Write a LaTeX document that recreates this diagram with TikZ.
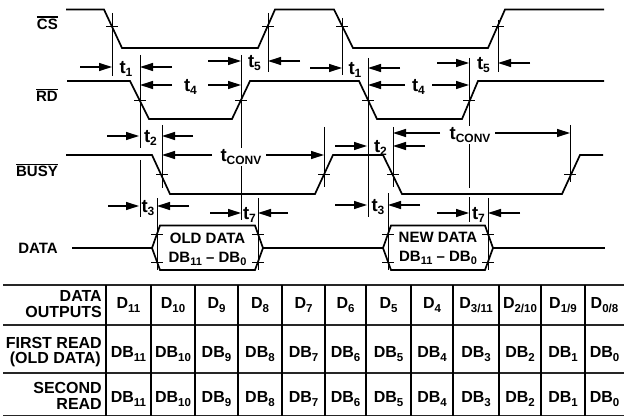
\documentclass[tikz,border=0pt]{standalone}
\usepackage{fontspec}
\setmainfont{Liberation Sans}
\usetikzlibrary{arrows.meta}
\newcommand\ovl[1]{\setbox0\hbox{#1}\rlap{\rule[\dimexpr\ht0+1.2pt\relax]{\wd0}{1.3pt}}\box0}
\newcommand\tsb[1]{\raisebox{-3pt}{\fontsize{12}{12}\selectfont #1}}
\newcommand\bsb[1]{\raisebox{-3pt}{\fontsize{11}{11}\selectfont #1}}
\newcommand\dsb[1]{\raisebox{-4pt}{\fontsize{11.5}{11.5}\selectfont #1}}
\tikzset{
  wave/.style={line width=1.7pt, line join=miter},
  tline/.style={line width=0.9pt},
  tickmark/.style={line width=0.9pt},
  arr/.style={line width=1.2pt, -{Triangle[length=13pt,width=8pt]}},
  tl/.style={font=\fontsize{18.5}{18.5}\selectfont\bfseries, anchor=base, inner sep=0pt},
  sig/.style={font=\fontsize{15}{15}\selectfont\bfseries, anchor=base east, inner sep=0pt},
  boxt/.style={font=\fontsize{15}{15}\selectfont\bfseries, anchor=base, inner sep=0pt},
  cell/.style={font=\fontsize{16}{16}\selectfont\bfseries, anchor=base, inner sep=0pt},
  rowh/.style={cell, anchor=base east},
  grid/.style={line width=1.6pt, black!85},
  vgrid/.style={line width=1.1pt}
}
\begin{document}
\begin{tikzpicture}[x=1pt,y=-1pt]
\useasboundingbox (0,0) rectangle (624,417);
% signal labels
\node[sig] (lcs) at (58,29.3) {\ovl{CS}};
\node[sig] (lrd) at (58,102) {\ovl{RD}};
\node[sig] (lbusy) at (58,177) {\ovl{BUSY}};
\node[sig] (ldata) at (58,253) {DATA};
% waveforms
\draw[wave] (66,9.5) -- (104,9.5) -- (122,48) -- (258,48) -- (275,9.5) -- (334,9.5) -- (353,48) -- (488,48) -- (505,9.5) -- (604,9.5);
\draw[wave] (67,81) -- (130,81) -- (149,119) -- (232,119) -- (250,81) -- (359,81) -- (377,119) -- (462,119) -- (478,81) -- (604,81);
\draw[wave] (66,155) -- (152,155) -- (170,194) -- (315,194) -- (333,155) -- (383,155) -- (402,194) -- (562,194) -- (580,155) -- (603,155);
\draw[wave] (72,248) -- (152,248) -- (160,225.5) -- (255,225.5) -- (263,248) -- (255,270) -- (160,270) -- (152,248);
\draw[wave] (263,248) -- (383,248) -- (391,225.5) -- (485,225.5) -- (493,248) -- (485,270) -- (391,270) -- (383,248);
\draw[wave] (493,248) -- (605,248);
% timing verticals
\foreach \x/\a/\b in {112/13/76, 268/13/72, 342/18/75, 498/20/72,
    140/55/148, 140/160/217, 241/55/220, 368/58/217, 469/58/188, 469/197/222,
    162/125/188, 324/127/187, 393/127/187, 570/125/182,
    157/198/270, 258/198/270, 388/193/270, 488/198/270}
  \draw[tline] (\x,\a) -- (\x,\b);
% crossing ticks
\foreach \x/\y in {112/26, 268/26, 342/26, 498/26,
    140/100, 241/100, 368/100, 469/100,
    162/174, 324/174, 393/174, 570/174,
    157/234, 157/262, 258/234, 258/262, 388/234, 388/262, 488/234, 488/262}
  \draw[tickmark] (\x-6,\y) -- (\x+6,\y);
% arrows
\foreach \a/\b/\y in {80/112/67, 172/140/67, 208/241/61, 300/268/61,
    172/140/85, 208/241/85, 107/139/136, 193/162/136,
    212/162/155, 266/324/155, 108/139/206, 189/157/206,
    210/241/213, 288/258/213,
    310/342/68, 400/368/68, 437/469/63, 530/498/63,
    405/368/85, 432/469/85, 335/367/146, 425/393/146,
    440/393/133, 495/570/133, 335/367/205, 420/388/205,
    437/469/213, 520/488/213}
  \draw[arr] (\a,\y) -- (\b,\y);
% timing labels
\node[tl] (t1a) at (126,73.5) {t\tsb{1}};
\node[tl] (t5a) at (254.5,67.5) {t\tsb{5}};
\node[tl] (t4a) at (190.5,91.5) {t\tsb{4}};
\node[tl] (t2a) at (150.5,142.5) {t\tsb{2}};
\node[tl, fill=white, inner xsep=2pt, inner ysep=1pt] (tca) at (241,161.5) {t\tsb{CONV}};
\node[tl] (t3a) at (148,212.5) {t\tsb{3}};
\node[tl] (t7a) at (249.5,219.5) {t\tsb{7}};
\node[tl] (t1b) at (355,74.5) {t\tsb{1}};
\node[tl] (t5b) at (483.5,69.5) {t\tsb{5}};
\node[tl] (t4b) at (418.5,91.5) {t\tsb{4}};
\node[tl] (t2b) at (380.5,152.5) {t\tsb{2}};
\node[tl, fill=white, inner xsep=2pt, inner ysep=1pt] (tcb) at (470,139.5) {t\tsb{CONV}};
\node[tl] (t3b) at (378,211.5) {t\tsb{3}};
\node[tl] (t7b) at (478.5,219.5) {t\tsb{7}};
% data box texts
\node[boxt] (old1) at (207.5,243) {OLD DATA};
\node[boxt] (old2) at (207.5,262) {DB\bsb{11} – DB\bsb{0}};
\node[boxt] (new1) at (438,242) {NEW DATA};
\node[boxt] (new2) at (438,261) {DB\bsb{11} – DB\bsb{0}};
% table
\foreach \y in {285,325,373,415.5}
  \draw[grid] (3,\y) -- (624,\y);
\foreach \x in {106,151,195,238,282,325,366,411,453,499,541,585}
  \draw[vgrid] (\x,285) -- (\x,415.5);
\node[rowh] (h1a) at (102,301) {DATA};
\node[rowh] (h1b) at (102,317) {OUTPUTS};
\node[rowh] (h2a) at (102,348) {FIRST READ};
\node[rowh] (h2b) at (101,363) {(OLD DATA)};
\node[rowh] (h3a) at (102,393) {SECOND};
\node[rowh] (h3b) at (102,409) {READ};
\foreach \c/\s/\b [count=\i] in {128.5/11/11, 173/10/10, 216.5/9/9, 260/8/8, 303.5/7/7, 345.5/6/6,
    388.5/5/5, 432/4/4, 476/3\slash 11/3, 520/2\slash 10/2, 563/1\slash 9/1, 604.5/0\slash 8/0}
{
  \node[cell] (r1c\i) at (\c,308.5) {D\dsb{\s}};
  \node[cell] (r2c\i) at (\c,357) {DB\dsb{\b}};
  \node[cell] (r3c\i) at (\c,402) {DB\dsb{\b}};
}
\end{tikzpicture}
\end{document}
